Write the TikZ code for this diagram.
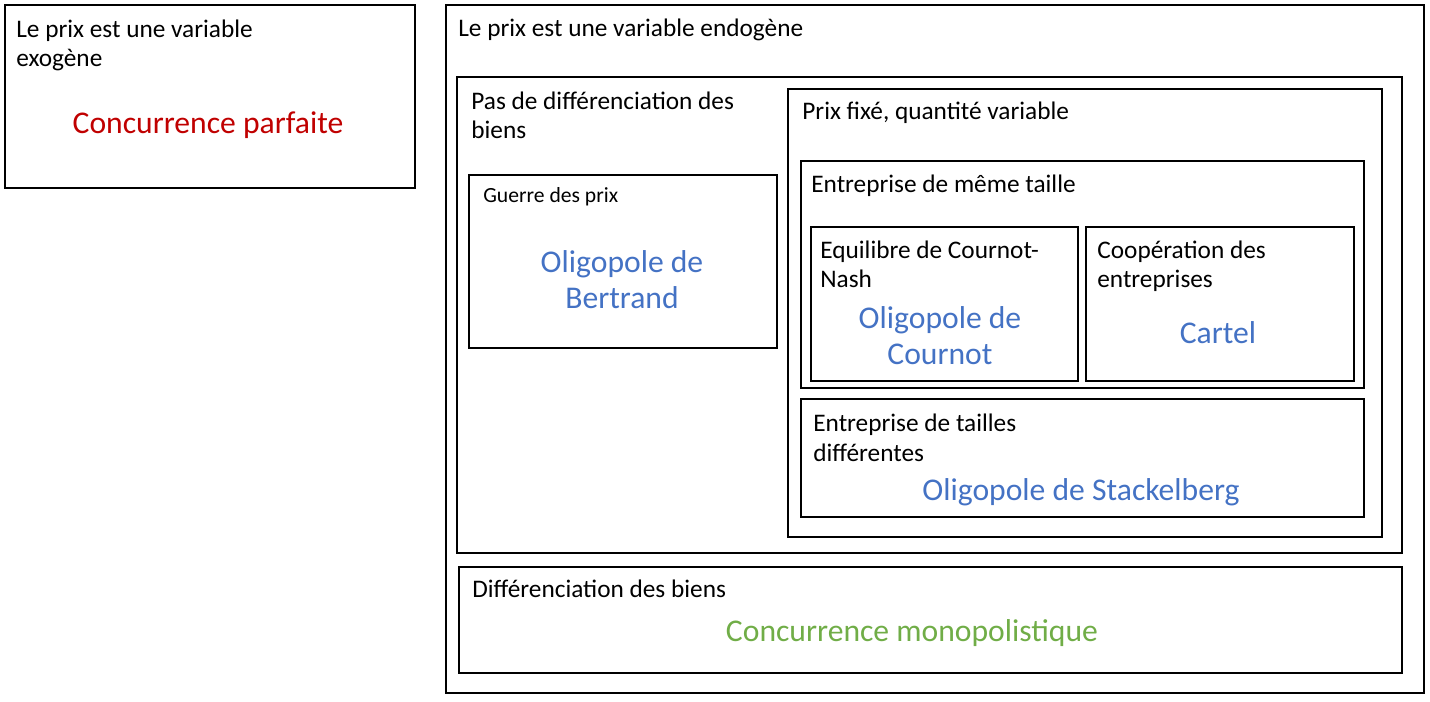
\documentclass[tikz,border=0pt]{standalone}
\usepackage{fontspec}
\setmainfont{Carlito}
\definecolor{perfectred}{HTML}{C00000}
\definecolor{oligoblue}{HTML}{4472C4}
\definecolor{monogreen}{HTML}{70AD47}

\begin{document}
\begin{tikzpicture}[x=0.02cm, y=-0.02cm]
  \tikzset{
    frame/.style = {draw, line width=1.1pt},
    caption/.style = {inner sep=0, anchor=base west, align=left,
      font=\fontsize{14.4}{17}\selectfont},
    smallcaption/.style = {caption, font=\fontsize{12.3}{15}\selectfont},
    market/.style = {inner sep=0, anchor=base, align=center,
      font=\fontsize{18}{21}\selectfont},
  }
  \useasboundingbox (0,0) rectangle (1430,702);

  % the frames, outer to inner
  \foreach \xa/\ya/\xb/\yb in {5/5/415/188, 446/5/1424/693, 457/77/1402/553,
    469/175/777/348, 788/89/1382/537, 801/161/1364/388, 811/227/1078/381,
    1086/227/1354/381, 801/399/1364/517, 459/567/1402/673}
  \draw[frame] (\xa,\ya) rectangle (\xb,\yb);

  % exogenous price (two-line texts sit on their last baseline)
  \node[caption] (exoT) at (16,67) {Le prix est une variable\\exogène};
  \node[market, text=perfectred] (parfaite) at (208,134) {Concurrence parfaite};

  % endogenous price
  \node[caption] (endoT) at (458,37) {Le prix est une variable endogène};
  \node[caption] (nodiffT) at (471,139) {Pas de différenciation des\\biens};
  \node[smallcaption] (guerreT) at (483,203) {Guerre des prix};
  \node[market, text=oligoblue] (bertrand) at (622,309) {Oligopole de\\Bertrand};

  \node[caption] (fixeT) at (802,120) {Prix fixé, quantité variable};
  \node[caption] (memeT) at (811,193) {Entreprise de même taille};
  \node[caption] (nashT) at (820,288) {Equilibre de Cournot-\\Nash};
  \node[market, text=oligoblue] (cournot) at (940,365) {Oligopole de\\Cournot};
  \node[caption] (coopT) at (1097,288) {Coopération des\\entreprises};
  \node[market, text=oligoblue] (cartel) at (1218,344) {Cartel};
  \node[caption] (taillesT) at (813,461) {Entreprise de tailles\\différentes};
  \node[market, text=oligoblue] (stackelberg) at (1081,500) {Oligopole de Stackelberg};

  \node[caption] (diffT) at (472,597) {Différenciation des biens};
  \node[market, text=monogreen] (monopol) at (912,641) {Concurrence monopolistique};
\end{tikzpicture}
\end{document}
